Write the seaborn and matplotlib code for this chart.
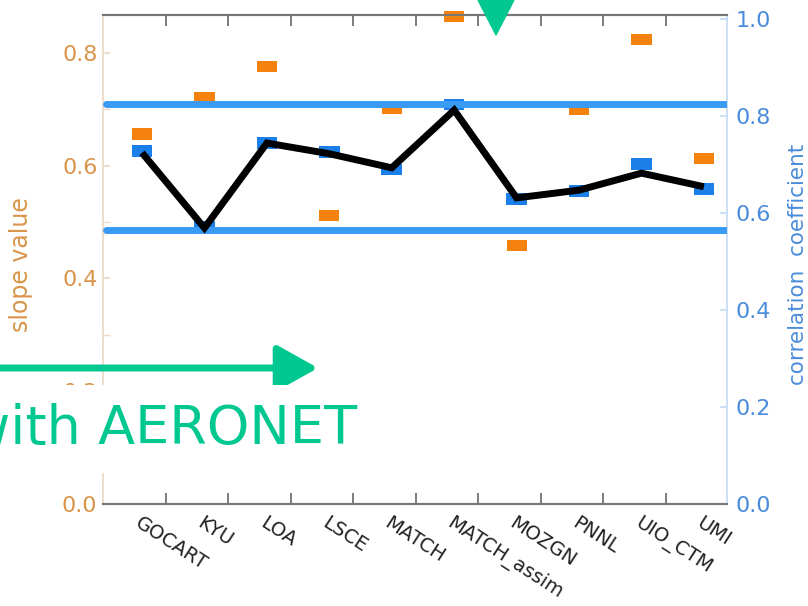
import numpy as np
import pandas as pd
import matplotlib
matplotlib.use("Agg")
import matplotlib.pyplot as plt
from matplotlib.path import Path
from matplotlib.patches import Polygon
import seaborn as sns

# data
models = ["GOCART", "KYU", "LOA", "LSCE", "MATCH", "MATCH_assim",
          "MOZGN", "PNNL", "UIO_CTM", "UMI"]
slope = [0.656, 0.720, 0.775, 0.512, 0.702, 0.865, 0.459, 0.700, 0.824, 0.612]
corr = [0.728, 0.571, 0.744, 0.726, 0.689, 0.823, 0.629, 0.645, 0.701, 0.649]
corr_line = [0.724, 0.569, 0.744, 0.722, 0.693, 0.812, 0.631, 0.647, 0.682, 0.654]
corr_range = [0.825, 0.565]

left_ticks = [0.0, 0.2, 0.4, 0.6, 0.8]
right_ticks = [0.0, 0.2, 0.4, 0.6, 0.8, 1.0]

ORANGE = "#f5820f"
BLUE = "#1a7fe8"
LINEBLUE = "#3a9bf5"
TAN = "#d9954a"
RBLUE = "#4a8cdb"
GREEN = "#00c890"

sns.set_theme(style="white")
plt.rcParams["font.family"] = ["DejaVu Sans"]

df = pd.DataFrame({"model": models, "x": np.arange(len(models)),
                   "slope": slope, "corr": corr, "line": corr_line})

fig = plt.figure(figsize=(8.08, 6.06), dpi=100)
fig.subplots_adjust(left=103 / 808, right=727 / 808,
                    bottom=1 - 504 / 606, top=1 - 15 / 606)
ax = fig.add_subplot(111)
ax2 = ax.twinx()

rect = Path([(-1.8, -1), (1.8, -1), (1.8, 1), (-1.8, 1), (-1.8, -1)],
            [Path.MOVETO, Path.LINETO, Path.LINETO, Path.LINETO, Path.CLOSEPOLY])

sns.scatterplot(data=df, x="x", y="slope", ax=ax, marker=rect, s=210,
                color=ORANGE, edgecolor="none", clip_on=False, zorder=3)
sns.scatterplot(data=df, x="x", y="corr", ax=ax2, marker=rect, s=220,
                color=BLUE, edgecolor="none", zorder=2)
for v in corr_range:
    ax2.axhline(v, xmin=0.005, xmax=1, color=LINEBLUE, lw=5, zorder=3)
sns.lineplot(data=df, x="x", y="line", ax=ax2, color="black", lw=5,
             solid_joinstyle="miter", solid_capstyle="butt", zorder=4)

n = len(models)
ax.set_xlim(-0.625, n - 1 + 0.37)
ax.set_ylim(0, 0.867)
ax2.set_ylim(0, 1.008)

ax.set_xticks(np.arange(n))
ax.set_xticklabels(models, rotation=-33, ha="left", va="top",
                   rotation_mode="anchor", fontsize=14, color="#222222")
ax.set_xticks(np.arange(n - 1) + 0.385, minor=True)
ax.tick_params(axis="x", which="major", length=0, pad=7)
ax.tick_params(axis="x", which="minor", direction="in", length=8, width=1.2,
               color="#666666", top=True, bottom=True)
ax.set_xlabel("")

ax.set_yticks(left_ticks)
ax.set_yticklabels([f"{t:.1f}" for t in left_ticks])
ax.set_yticks(np.arange(0.1, 0.86, 0.2), minor=True)
ax.tick_params(axis="y", which="both", direction="in", length=5,
               color="#ecd9c6", labelcolor=TAN, labelsize=16, pad=4)
ax.set_ylabel("slope value", color=TAN, fontsize=17)
ax.yaxis.set_label_coords(-0.112, 0.49)

ax2.set_yticks(right_ticks)
ax2.set_yticklabels([f"{t:.1f}" for t in right_ticks])
ax2.tick_params(axis="y", direction="in", length=5, color="#c6dcf2",
                labelcolor=RBLUE, labelsize=16, pad=6)
ax2.set_ylabel("correlation  coefficient", color=RBLUE, fontsize=15.5)
ax2.yaxis.set_label_coords(1.097, 0.49)

for a in (ax, ax2):
    a.spines["top"].set_color("#777777")
    a.spines["bottom"].set_color("#777777")
    a.spines["top"].set_linewidth(1.5)
    a.spines["bottom"].set_linewidth(1.5)
ax.spines["left"].set_color("#ecd9c6")
ax2.spines["left"].set_visible(False)
ax2.spines["right"].set_color("#c6dcf2")
ax.spines["right"].set_visible(False)

# green overlay annotations
ax2.annotate("", xy=(318 / 808, 1 - 368 / 606), xytext=(-0.01, 1 - 368 / 606),
             xycoords="figure fraction", textcoords="figure fraction",
             arrowprops=dict(arrowstyle="-|>,head_length=1.25,head_width=0.7",
                             mutation_scale=20, lw=5, color=GREEN,
                             shrinkA=0, shrinkB=0),
             annotation_clip=False, zorder=10)
fig.text(357 / 808, 1 - 444 / 606, "with AERONET", color=GREEN, fontsize=39,
         ha="right", va="baseline", zorder=9,
         bbox=dict(facecolor="white", edgecolor="none", pad=13))
fig.add_artist(Polygon([(478 / 808, 1.0), (514 / 808, 1.0), (496 / 808, 1 - 35 / 606)],
                       closed=True, color=GREEN, transform=fig.transFigure,
                       zorder=10))

fig.savefig("out.png", dpi=100)
